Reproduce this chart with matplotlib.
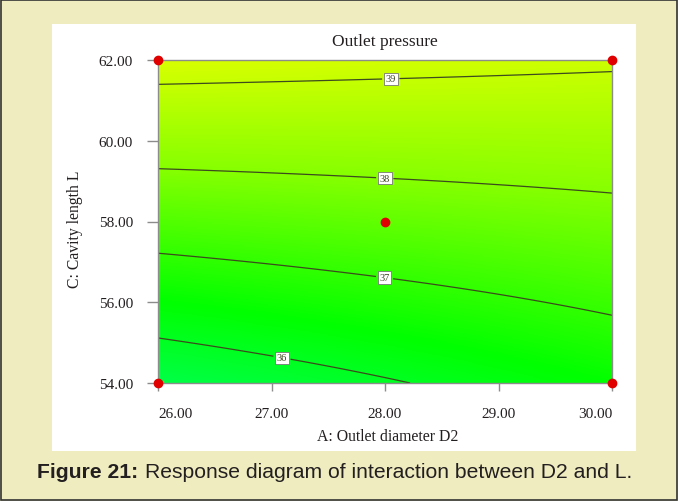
import numpy as np
import matplotlib
matplotlib.use('Agg')
import matplotlib.pyplot as plt
from matplotlib.colors import LinearSegmentedColormap
from matplotlib.patches import Rectangle

####################################################################################

PAGE_RGB = '#EFECC0'
PANEL_RGB = '#FFFFFF'
TEXT_RGB = '#231F20'
AXIS_RGB = '#8C8C8C'
SERIF = 'Liberation Serif'

# response model in coded units: x = (D2 - 28) / 2, y = (L - 58) / 4
B0, B1, B2 = 37.5638, 0.1961, 1.6228
B12, B11, B22, B112 = -0.2929, 0.0070, 0.0047, -0.0058

d2_ticks = [26.0, 27.0, 28.0, 29.0, 30.0]
l_ticks = [54.0, 56.0, 58.0, 60.0, 62.0]
levels = [36, 37, 38, 39]
label_pos = [(27.1, 54.75), (28.0, 56.7), (28.0, 59.2), (28.05, 61.6)]

design_d2 = [26.0, 26.0, 30.0, 30.0, 28.0]
design_l = [54.0, 62.0, 54.0, 62.0, 58.0]

####################################################################################

def outlet_pressure(d2, l):
    x = (d2 - 28.0) / 2.0
    y = (l - 58.0) / 4.0
    return (B0 + B1 * x + B2 * y + B12 * x * y + B11 * x ** 2 + B22 * y ** 2
            + B112 * x ** 2 * y)

cmap = LinearSegmentedColormap.from_list('de', [
    (0.00, (0.0, 1.0, 0.28)),
    (0.25, (0.0, 1.0, 0.0)),
    (0.65, (0.52, 1.0, 0.0)),
    (1.00, (0.86, 1.0, 0.0)),
])

figure = plt.figure(figsize=(6.78, 5.02), dpi=100, facecolor=PAGE_RGB)
figure.patches.append(Rectangle((0.0015, 0.002), 0.997, 0.996, transform=figure.transFigure,
                                facecolor='none', edgecolor='#333333', linewidth=1.2,
                                zorder=-10))
figure.patches.append(Rectangle((52 / 678, 1 - 452 / 502), 584 / 678, 427 / 502,
                                transform=figure.transFigure, facecolor=PANEL_RGB,
                                edgecolor='none', zorder=-10))

axes = figure.add_axes([158 / 678, 1 - 384 / 502, 454 / 678, 323 / 502])

dd, ll = np.meshgrid(np.linspace(26, 30, 300), np.linspace(54, 62, 300))
pp = outlet_pressure(dd, ll)
axes.imshow(pp, extent=(26, 30, 54, 62), origin='lower', aspect='auto',
            cmap=cmap, vmin=35.45, vmax=39.35, interpolation='bilinear')
cs = axes.contour(dd, ll, pp, levels=levels, colors='#3C4A1E', linewidths=0.9)
texts = axes.clabel(cs, fmt='%d', manual=label_pos, inline=True, inline_spacing=2,
                    fontsize=7.5)
for t in texts:
    t.set_rotation(0)
    t.set_family(SERIF)
    t.set_bbox(dict(facecolor='white', edgecolor='#777777', linewidth=0.6, pad=1.2))

axes.plot(design_d2, design_l, 'o', color='#E00000', markersize=6, clip_on=False, zorder=6)

axes.set_xlim(26, 30)
axes.set_ylim(54, 62)
axes.set_xticks(d2_ticks)
axes.set_yticks(l_ticks)
axes.set_xticklabels(['%.2f' % v for v in d2_ticks], family=SERIF, fontsize=11, color=TEXT_RGB)
axes.set_yticklabels(['%.2f' % v for v in l_ticks], family=SERIF, fontsize=11, color=TEXT_RGB)
axes.tick_params(axis='x', length=6, width=1, color=AXIS_RGB, pad=11)
axes.tick_params(axis='y', length=8, width=1, color=AXIS_RGB, pad=10)
xl = axes.get_xticklabels()
xl[0].set_ha('left')
xl[-1].set_ha('right')
for s in axes.spines.values():
    s.set_color(AXIS_RGB)
    s.set_linewidth(1)

figure.text(385 / 678, 1 - 42 / 502, 'Outlet pressure', family=SERIF, fontsize=12.5,
            color=TEXT_RGB, ha='center', va='center')
figure.text(388 / 678, 1 - 437 / 502, 'A: Outlet diameter D2', family=SERIF, fontsize=11.3,
            color=TEXT_RGB, ha='center', va='center')
figure.text(75 / 678, 1 - 229 / 502, 'C: Cavity length L', family=SERIF, fontsize=11.3,
            color=TEXT_RGB, ha='center', va='center', rotation=90)

figure.text(37 / 678, 1 - 473 / 502, 'Figure 21:', family='Liberation Sans', fontsize=15.2,
            fontweight='bold', color=TEXT_RGB, ha='left', va='center')
figure.text(145 / 678, 1 - 473 / 502, 'Response diagram of interaction between D2 and L.',
            family='Liberation Sans', fontsize=15.2, color=TEXT_RGB, ha='left', va='center')

figure.savefig('out.png', dpi=100, facecolor=PAGE_RGB)
